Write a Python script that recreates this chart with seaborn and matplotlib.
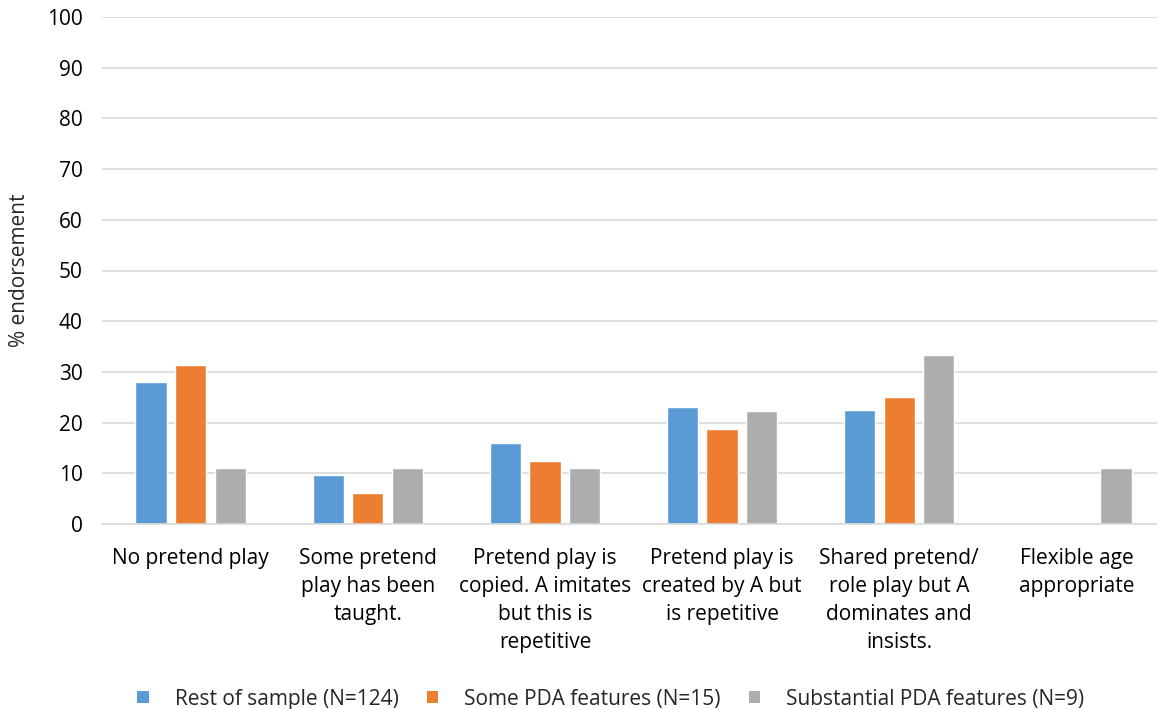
import matplotlib
matplotlib.use("Agg")
import matplotlib.pyplot as plt
import seaborn as sns
import pandas as pd

categories = ["No pretend play", "Some pretend\nplay has been\ntaught.",
              "Pretend play is\ncopied. A imitates\nbut this is\nrepetitive",
              "Pretend play is\ncreated by A but\nis repetitive",
              "Shared pretend/\nrole play but A\ndominates and\ninsists.",
              "Flexible age\nappropriate"]
series = ["Rest of sample (N=124)", "Some PDA features (N=15)", "Substantial PDA features (N=9)"]
rest = [28.0, 9.6, 15.9, 23.1, 22.4, 0.0]
some = [31.3, 6.2, 12.5, 18.8, 25.0, 0.0]
subst = [11.1, 11.1, 11.1, 22.2, 33.3, 11.1]
colors = ["#5B9BD5", "#ED7D31", "#ADADAD"]

rows = []
for s, vals in zip(series, [rest, some, subst]):
    for c, v in zip(categories, vals):
        rows.append({"cat": c, "series": s, "value": v})
df = pd.DataFrame(rows)

sns.set_theme(style="white")
plt.rcParams['font.family'] = ['Open Sans', 'DejaVu Sans']

fig = plt.figure(figsize=(11.57, 7.09), dpi=100)
ax = fig.add_axes([102/1157, 1 - 524/709, (1157 - 102)/1157, (524 - 17)/709])
sns.barplot(data=df, x="cat", y="value", hue="series", palette=colors,
            order=categories, hue_order=series, width=0.67, gap=0.21,
            saturation=1, ax=ax, legend=False)
ax.set_ylim(0, 100)
ax.set_xlim(-0.5, (1157 - 191) / 177.1)
ax.set_yticks(range(0, 101, 10))
ax.yaxis.grid(True, color="#D9D9D9", linewidth=1.2)
ax.set_axisbelow(True)
for sp in ["top", "right", "left"]:
    ax.spines[sp].set_visible(False)
ax.spines["bottom"].set_color("#D9D9D9")
ax.spines["bottom"].set_linewidth(1.2)
ax.tick_params(axis="both", length=0, labelsize=15, colors="#000000")
ax.tick_params(axis="y", pad=14)
ax.tick_params(axis="x", pad=17)
ax.set_xticks(range(len(categories)))
ax.set_xticklabels(categories, va="top", linespacing=1.45)
ax.set_xlabel("")
ax.set_ylabel("% endorsement", fontsize=15, labelpad=12)

from matplotlib.patches import Patch
handles = [Patch(facecolor=c, edgecolor="none") for c in colors]
fig.legend(handles, series, loc="center", bbox_to_anchor=(611/1157, 1 - 699/709),
           ncol=3, frameon=False, fontsize=15, handlelength=0.55, handleheight=0.55,
           columnspacing=1.35, handletextpad=1.25, borderpad=0, borderaxespad=0)
fig.savefig("out.png", dpi=100)
